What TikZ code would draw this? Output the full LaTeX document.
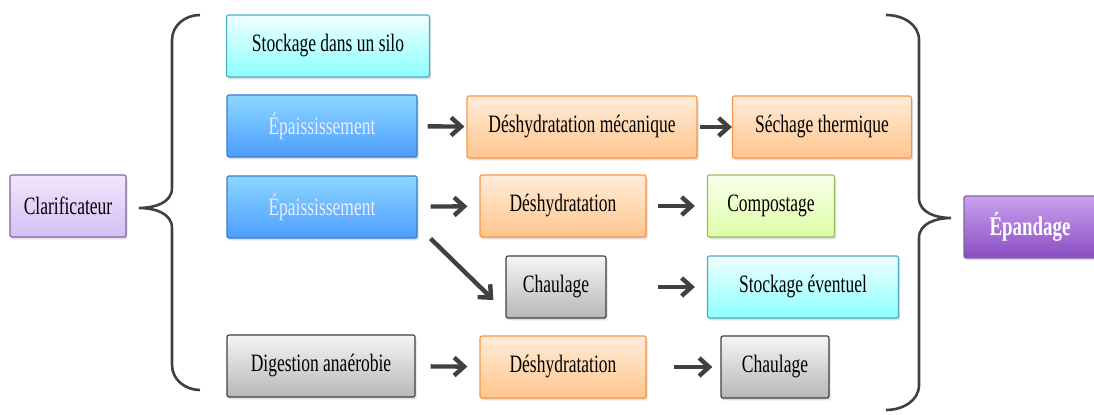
\documentclass[tikz,border=0pt]{standalone}
\usepackage{fontspec}
\setmainfont{Liberation Serif}[FakeStretch=0.7]
\usepackage{tikz}
\usetikzlibrary{arrows.meta,positioning,shadows}
\definecolor{cyanbd}{HTML}{4BACC6}
\definecolor{bluebd}{HTML}{3A7BD5}
\definecolor{orangebd}{HTML}{F79646}
\definecolor{greenbd}{HTML}{9BBB59}
\definecolor{purplebd}{HTML}{8064A2}
\definecolor{lavtop}{HTML}{F0E6FC}
\definecolor{lavbot}{HTML}{D6BEF3}
\definecolor{epandtop}{HTML}{C9A2EF}
\definecolor{epandbot}{HTML}{8A4CC2}
\definecolor{arrowgray}{HTML}{404040}

\begin{document}
\begin{tikzpicture}[
      x=0.5pt, y=-0.5pt,
      font=\fontsize{12.5}{14}\selectfont,
      box/.style={draw, line width=0.6pt, rounded corners=1pt, align=center,
                  minimum height=31pt, inner sep=2pt,
                  drop shadow={opacity=0.25, shadow xshift=0.8pt, shadow yshift=-1.2pt}},
      cyanbox/.style={box, draw=cyanbd, top color=cyan!6, bottom color=cyan!45!white},
      bluebox/.style={box, draw=bluebd, top color=blue!35!cyan!45!white, bottom color=blue!55!cyan!70!white,
                      text=blue!8!white},
      orangebox/.style={box, draw=orangebd, top color=orange!15!white, bottom color=orange!45!white},
      greenbox/.style={box, draw=greenbd, top color=green!20!yellow!8!white, bottom color=green!40!yellow!35!white},
      graybox/.style={box, draw=black!75, top color=black!4, bottom color=black!28},
      purplebox/.style={box, draw=purplebd, top color=lavtop, bottom color=lavbot},
      darkpurple/.style={box, draw=purplebd, top color=epandtop, bottom color=epandbot,
                         text=white, font=\fontsize{13.5}{15}\selectfont\bfseries},
      arrow/.style={-{Straight Barb[length=5pt,width=9pt]}, line width=2.2pt, color=arrowgray},
      bracket/.style={line width=1.3pt, color=arrowgray}
  ]
  \useasboundingbox (0,0) rectangle (1094,415);

  % boxes
  \node[purplebox, minimum width=58pt] (clarif) at (68,206) {Clarificateur};
  \node[cyanbox, minimum width=101.5pt] (silo) at (328,46) {Stockage dans un silo};
  \node[bluebox, minimum width=95pt] (epais1) at (322,126) {Épaississement};
  \node[orangebox, minimum width=115pt] (dmeca) at (582,127) {Déshydratation mécanique};
  \node[orangebox, minimum width=89.5pt] (sechage) at (822,127) {Séchage thermique};
  \node[bluebox, minimum width=95pt] (epais2) at (322,207) {Épaississement};
  \node[orangebox, minimum width=83pt] (deshyd1) at (563,206) {Déshydratation};
  \node[greenbox, minimum width=63.5pt] (compost) at (771,206) {Compostage};
  \node[graybox, minimum width=50pt] (chaul1) at (556,287) {Chaulage};
  \node[cyanbox, minimum width=95.5pt] (stockev) at (803,287) {Stockage éventuel};
  \node[graybox, minimum width=94pt] (digest) at (321,366) {Digestion anaérobie};
  \node[orangebox, minimum width=83pt] (deshyd2) at (563,367) {Déshydratation};
  \node[graybox, minimum width=54pt] (chaul2) at (775,367) {Chaulage};
  \node[darkpurple, minimum width=66pt] (epand) at (1030,227) {Épandage};

  % braces
  \draw[bracket] (200,15) to[out=180,in=90] (172,40) -- (172,188)
        to[out=-90,in=0] (139,208) to[out=0,in=90] (172,228) -- (172,365)
        to[out=-90,in=180] (200,390);
  \draw[bracket] (886,15) to[out=0,in=90] (919,40) -- (919,198)
        to[out=-90,in=180] (951,218) to[out=180,in=90] (919,238) -- (919,385)
        to[out=-90,in=0] (886,410);

  % arrows
  \draw[arrow, shorten <=5pt, shorten >=1pt] (epais1) -- (dmeca);
  \draw[arrow, shorten <=1pt] (dmeca) -- (sechage);
  \draw[arrow, shorten <=6.5pt, shorten >=6pt] (epais2) -- (deshyd1);
  \draw[arrow, shorten <=5.5pt, shorten >=6pt] (deshyd1) -- (compost);
  \draw[arrow] ([xshift=6.5pt]epais2.south east) -- ([xshift=-6pt, yshift=-6.5pt]chaul1.west);
  \draw[arrow, shorten <=25.5pt, shorten >=6pt] (chaul1) -- (stockev);
  \draw[arrow, shorten <=7.5pt, shorten >=6pt] (digest) -- (deshyd2);
  \draw[arrow, shorten <=13.5pt, shorten >=4pt] (deshyd2) -- (chaul2);
\end{tikzpicture}
\end{document}
